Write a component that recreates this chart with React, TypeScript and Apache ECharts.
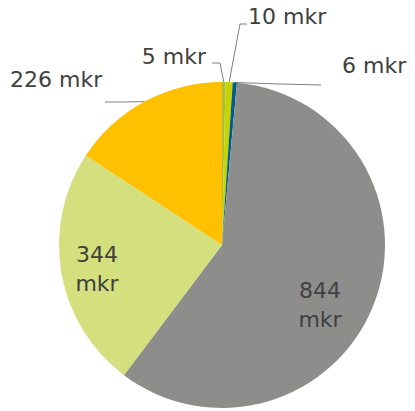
import React, { useEffect, useRef } from "react";
import * as echarts from "echarts";

const categories = ["A", "B", "C", "D", "E", "F"];
const values = [5, 10, 6, 844, 344, 226];
const labels = ["5 mkr", "10 mkr", "6 mkr", "844\nmkr", "344\nmkr", "226 mkr"];
const colors = ["#a9c23c", "#c8d300", "#005e8c", "#8d8d8b", "#d4df7e", "#ffc000"];

// label placement (styles)
const labelPlace: any[] = [
  { x: 206, y: 56, align: "right", line: [[220, 63], [212, 63]] },
  { x: 248, y: 16, align: "left", line: [[240, 24], [247, 24]] },
  { x: 342, y: 65, align: "left", line: [[280, 84], [321, 85]] },
  { x: 320, y: 305, align: "center", inside: true },
  { x: 97, y: 269, align: "center", inside: true },
  { x: 10, y: 79, align: "left", line: [[125, 102], [105, 102]] },
];

export default function App() {
  const ref = useRef<HTMLDivElement>(null);
  useEffect(() => {
    const chart = echarts.init(ref.current!, undefined, { renderer: "svg" });
    chart.setOption({
      animation: false,
      series: [
        {
          type: "pie",
          center: [222, 245],
          radius: 163,
          startAngle: 90,
          clockwise: true,
          avoidLabelOverlap: false,
          itemStyle: { borderWidth: 0 },
          label: {
            show: true,
            position: "outside",
            fontFamily: "DejaVu Sans",
            fontSize: 22,
            lineHeight: 29,
            color: "#404040",
            formatter: (p: any) => labels[p.dataIndex],
          },
          labelLine: { show: true, lineStyle: { color: "#808080", width: 1 } },
          labelLayout: (params: any) => {
            const p = labelPlace[params.dataIndex];
            const start = params.labelLinePoints ? params.labelLinePoints[0] : null;
            const res: any = { x: p.x, y: p.y, align: p.align, verticalAlign: "middle" };
            if (!p.inside && start) res.labelLinePoints = [start, ...p.line];
            return res;
          },
          data: values.map((v, i) => ({
            name: categories[i],
            value: v,
            itemStyle: { color: colors[i] },
            labelLine: { show: !labelPlace[i].inside },
          })),
        },
      ],
    });
    return () => chart.dispose();
  }, []);
  return (
    <div
      ref={ref}
      style={{ position: "fixed", left: 0, top: 0, width: 415, height: 411, background: "#fff" }}
    />
  );
}
